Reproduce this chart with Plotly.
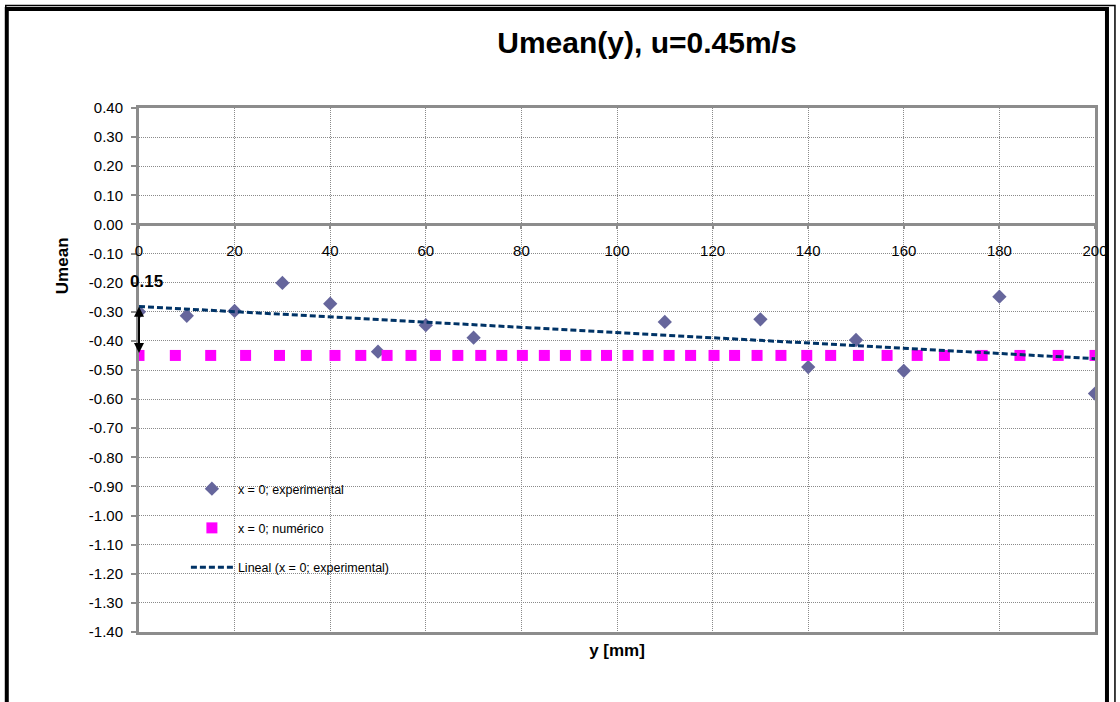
import numpy as np
import plotly.graph_objects as go

# ---- data ----
exp_y_mm = [0, 10, 20, 30, 40, 50, 60, 70, 110, 130, 140, 150, 160, 180, 200]
exp_umean = [-0.300, -0.314, -0.297, -0.201, -0.272, -0.437, -0.346, -0.389,
             -0.335, -0.326, -0.490, -0.397, -0.503, -0.248, -0.581]

num_y_mm = [0, 7.6, 15.0, 22.3, 29.4, 35.0, 41.0, 46.4, 51.9, 56.9, 62.0, 66.7,
            71.5, 75.9, 80.2, 84.8, 89.2, 93.5, 97.8, 102.3, 106.5, 110.9, 115.4,
            120.3, 124.6, 129.3, 134.3, 139.7, 144.7, 150.5, 156.5, 162.8, 168.5,
            176.4, 184.3, 192.3, 200.0]
num_umean = [-0.45] * len(num_y_mm)

x_tick_vals = [0, 20, 40, 60, 80, 100, 120, 140, 160, 180, 200]
y_tick_vals = [0.4, 0.3, 0.2, 0.1, 0.0, -0.1, -0.2, -0.3, -0.4, -0.5, -0.6, -0.7,
               -0.8, -0.9, -1.0, -1.1, -1.2, -1.3, -1.4]
y_tick_text = ["0.40", "0.30", "0.20", "0.10", "0.00", "-0.10", "-0.20", "-0.30",
               "-0.40", "-0.50", "-0.60", "-0.70", "-0.80", "-0.90", "-1.00",
               "-1.10", "-1.20", "-1.30", "-1.40"]
y_range = [-1.4, 0.4]
x_range = [0, 200]
diff_label = "0.15"

# linear trend of the experimental series
slope, intercept = np.polyfit(exp_y_mm, exp_umean, 1)
trend_x = [x_range[0], x_range[1]]
trend_y = [intercept + slope * v for v in trend_x]

FONT = "Arial, Liberation Sans, sans-serif"
GRAY = "#8c8c8c"
GRID = "#8a8a8a"
W, H = 1120, 702
L, R, T, B = 139, 23, 108, 70
PW, PH = W - L - R, H - T - B


def px(p):
    return (p - L) / PW


def py(q):
    return (H - B - q) / PH


fig = go.Figure()
fig.add_trace(go.Scatter(
    x=exp_y_mm, y=exp_umean, mode="markers", name="x = 0; experimental",
    marker=dict(symbol="diamond", size=11, color="#66669C"),
    legendgroup="a"))
fig.add_trace(go.Scatter(
    x=num_y_mm, y=num_umean, mode="markers", name="x = 0; numérico",
    marker=dict(symbol="square", size=11, color="#FF00FF"),
    legendgroup="b"))
fig.add_trace(go.Scatter(
    x=trend_x, y=trend_y, mode="lines", name="Lineal (x = 0; experimental)",
    line=dict(color="#003366", width=3, dash="6px,3px"),
    xaxis="x2", yaxis="y", legendgroup="c"))

fig.update_layout(
    width=W, height=H,
    margin=dict(l=L, r=R, t=T, b=B),
    paper_bgcolor="white", plot_bgcolor="white",
    font=dict(family=FONT, color="black", size=15),
    title=dict(text="<b>Umean(y), u=0.45m/s</b>", font=dict(size=30, family=FONT),
               x=px(648), xref="paper", xanchor="center",
               y=1 - 42 / H, yref="container", yanchor="middle"),
    xaxis=dict(range=x_range, tickvals=x_tick_vals, showticklabels=False,
               showgrid=True, gridcolor=GRID, griddash="1px,1px", gridwidth=1,
               showline=True, linecolor=GRAY, linewidth=3, mirror=True,
               zeroline=False, ticks="",
               title=dict(text="<b>y [mm]</b>", font=dict(size=17), standoff=11)),
    xaxis2=dict(range=x_range, overlaying="x", anchor="free",
                position=(0 - y_range[0]) / (y_range[1] - y_range[0]),
                side="bottom", tickvals=x_tick_vals, showgrid=False,
                showline=False, zeroline=False, ticks="outside", ticklen=4,
                tickwidth=2, tickcolor=GRAY, ticklabelstandoff=9,
                tickfont=dict(size=15)),
    yaxis=dict(range=y_range, tickvals=y_tick_vals, ticktext=y_tick_text,
               showgrid=True, gridcolor=GRID, griddash="1px,1px", gridwidth=1,
               showline=True, linecolor=GRAY, linewidth=3, mirror=True,
               zeroline=True, zerolinecolor=GRAY, zerolinewidth=3,
               ticks="outside", ticklen=5, tickwidth=2, tickcolor=GRAY,
               ticklabelstandoff=5, tickfont=dict(size=15)),
    legend=dict(x=px(186), y=py(474), xanchor="left", yanchor="top",
                bgcolor="rgba(0,0,0,0)", font=dict(size=12.5, family=FONT),
                tracegroupgap=20, itemwidth=42),
    showlegend=True,
)

# y-axis title placed as in the reference
fig.add_annotation(text="<b>Umean</b>", x=px(62), y=py(266), xref="paper", yref="paper",
                   textangle=-90, showarrow=False, font=dict(size=17, family=FONT),
                   xanchor="center", yanchor="middle")

# double-headed arrow showing the difference
fig.add_annotation(x=0, y=num_umean[0] + 0.008, ax=0, ay=intercept + 0.004,
                   xref="x", yref="y", axref="x", ayref="y", text="",
                   showarrow=True, arrowhead=2, arrowside="end+start",
                   arrowsize=1, arrowwidth=2, arrowcolor="black", standoff=0,
                   startstandoff=0)
fig.add_annotation(x=1.6, y=-0.195, xref="x", yref="y", text="<b>" + diff_label + "</b>",
                   showarrow=False, font=dict(size=17, family=FONT),
                   xanchor="center", yanchor="middle")

# chart-area frame (double border)
fig.add_shape(type="rect", xref="paper", yref="paper",
              x0=px(5.5), x1=px(1117), y0=py(720), y1=py(5.5),
              line=dict(color="black", width=1.5), fillcolor="rgba(0,0,0,0)", layer="above")
fig.add_shape(type="rect", xref="paper", yref="paper",
              x0=px(6.5), x1=px(1109), y0=py(720), y1=py(9),
              line=dict(color="black", width=4), fillcolor="rgba(0,0,0,0)", layer="above")

fig.write_html("out.html", config={"displayModeBar": False},
               post_script="document.body.style.margin='0';document.body.style.overflow='hidden';")
